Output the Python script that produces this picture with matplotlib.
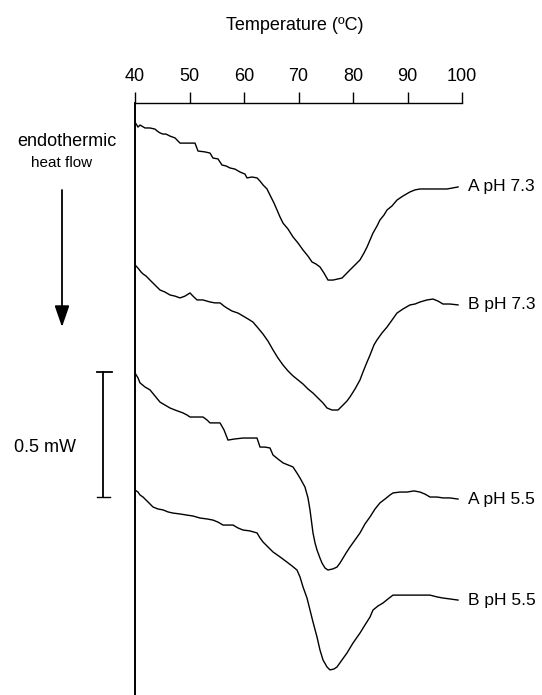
import matplotlib
matplotlib.use("Agg")
import matplotlib.pyplot as plt

plt.rcParams['font.family'] = ['Liberation Sans', 'DejaVu Sans']

# ---- data: temperature (deg C) and heat flow (mW, offset for display) ----
T_A73 = [40.00, 40.55, 40.92, 41.83, 42.75, 43.67, 44.04, 44.59, 45.14, 45.69, 46.42, 47.34, 48.26, 50.09, 51.01,
         51.56, 52.84, 53.76, 54.31, 55.23, 55.96, 56.70, 57.43, 58.35, 59.27, 60.18, 60.55, 61.47, 62.39, 62.94,
         63.49, 64.22, 64.77, 65.50, 66.06, 66.61, 67.16, 68.07, 68.99, 69.91, 70.83, 71.74, 72.48, 73.21, 73.94,
         74.68, 75.41, 76.33, 77.25, 77.98, 78.72, 79.45, 80.37, 81.28, 82.02, 82.57, 83.12, 83.67, 84.40, 84.95,
         85.69, 86.24, 87.16, 88.07, 89.17, 90.46, 91.38, 92.29, 95.05, 97.25, 98.17, 99.27]
H_A73 = [2.535, 2.513, 2.522, 2.509, 2.509, 2.504, 2.496, 2.487, 2.482, 2.482, 2.473, 2.465, 2.442, 2.442, 2.442,
         2.407, 2.403, 2.398, 2.376, 2.372, 2.345, 2.341, 2.332, 2.327, 2.314, 2.305, 2.288, 2.292, 2.288, 2.274,
         2.257, 2.239, 2.212, 2.177, 2.146, 2.115, 2.088, 2.062, 2.027, 2.000, 1.969, 1.942, 1.916, 1.907, 1.894,
         1.867, 1.836, 1.836, 1.841, 1.845, 1.863, 1.881, 1.903, 1.925, 1.956, 1.982, 2.013, 2.044, 2.075, 2.102,
         2.124, 2.146, 2.164, 2.190, 2.208, 2.226, 2.235, 2.239, 2.239, 2.239, 2.243, 2.248]

T_B73 = [40.00, 40.55, 41.10, 41.47, 42.02, 42.75, 43.67, 44.59, 45.50, 46.42, 47.34, 48.26, 49.17, 50.09, 50.64,
         51.38, 52.48, 53.76, 54.68, 55.60, 56.33, 56.88, 57.80, 58.90, 59.82, 60.73, 61.65, 62.57, 63.49, 64.40,
         65.32, 66.24, 67.16, 68.07, 68.99, 69.91, 70.83, 71.74, 72.66, 73.58, 74.50, 75.23, 76.15, 77.25, 78.17,
         78.90, 79.45, 80.37, 81.28, 81.83, 82.57, 83.12, 83.85, 84.40, 85.32, 86.24, 87.16, 88.07, 89.17, 90.46,
         91.38, 92.29, 93.58, 94.68, 95.60, 96.51, 97.80, 99.27]
H_B73 = [1.903, 1.889, 1.872, 1.863, 1.854, 1.836, 1.814, 1.792, 1.783, 1.770, 1.765, 1.757, 1.765, 1.779, 1.765,
         1.748, 1.748, 1.739, 1.735, 1.735, 1.721, 1.712, 1.699, 1.690, 1.677, 1.664, 1.650, 1.624, 1.597, 1.566,
         1.527, 1.491, 1.460, 1.434, 1.412, 1.394, 1.376, 1.354, 1.336, 1.314, 1.292, 1.270, 1.261, 1.261, 1.283,
         1.301, 1.319, 1.354, 1.394, 1.429, 1.473, 1.504, 1.549, 1.571, 1.602, 1.628, 1.659, 1.690, 1.708, 1.726,
         1.730, 1.739, 1.748, 1.752, 1.743, 1.730, 1.730, 1.726]

T_A55 = [40.00, 40.55, 40.92, 41.83, 42.75, 43.67, 44.59, 45.50, 46.42, 47.34, 48.81, 49.54, 50.09, 51.38, 52.48,
         53.21, 53.76, 54.68, 55.60, 56.33, 57.06, 58.35, 59.82, 61.10, 62.39, 62.94, 63.85, 64.77, 65.32, 66.24,
         67.16, 68.07, 68.99, 69.72, 70.28, 71.19, 71.74, 72.11, 72.66, 73.03, 73.39, 73.94, 74.31, 74.86, 75.41,
         76.33, 77.06, 77.61, 78.17, 78.72, 79.45, 80.37, 81.28, 82.20, 83.12, 84.04, 84.95, 85.87, 86.79, 87.34,
         88.62, 89.91, 91.19, 92.29, 93.21, 94.13, 95.41, 96.51, 97.80, 99.27]
H_A55 = [1.425, 1.403, 1.381, 1.363, 1.350, 1.323, 1.296, 1.283, 1.270, 1.261, 1.248, 1.239, 1.230, 1.230, 1.230,
         1.217, 1.204, 1.204, 1.204, 1.173, 1.128, 1.133, 1.137, 1.137, 1.137, 1.097, 1.097, 1.093, 1.062, 1.044,
         1.027, 1.018, 1.009, 0.982, 0.960, 0.920, 0.872, 0.819, 0.717, 0.673, 0.642, 0.606, 0.584, 0.562, 0.553,
         0.558, 0.566, 0.584, 0.606, 0.628, 0.655, 0.686, 0.717, 0.757, 0.788, 0.823, 0.850, 0.867, 0.885, 0.894,
         0.898, 0.898, 0.903, 0.898, 0.889, 0.876, 0.876, 0.872, 0.872, 0.867]

T_B55 = [40.00, 40.55, 40.92, 41.47, 42.39, 43.30, 44.22, 45.14, 46.06, 46.97, 48.26, 49.54, 50.64, 51.93, 53.21,
         54.31, 55.23, 56.15, 57.06, 57.98, 58.90, 59.82, 61.10, 62.39, 62.94, 63.49, 64.40, 65.32, 66.61, 67.89,
         68.81, 69.72, 70.28, 70.83, 71.56, 72.11, 72.66, 73.39, 73.94, 74.50, 75.23, 75.78, 76.51, 77.06, 77.98,
         78.90, 80.00, 81.28, 82.20, 83.12, 83.67, 84.59, 85.50, 86.42, 87.34, 88.62, 90.46, 92.29, 94.13, 95.41,
         96.51, 97.80, 99.27]
H_B55 = [0.907, 0.898, 0.885, 0.876, 0.854, 0.832, 0.823, 0.819, 0.810, 0.805, 0.801, 0.796, 0.792, 0.783, 0.779,
         0.774, 0.765, 0.752, 0.752, 0.752, 0.739, 0.730, 0.726, 0.717, 0.695, 0.677, 0.655, 0.633, 0.611, 0.588,
         0.571, 0.553, 0.522, 0.478, 0.429, 0.376, 0.323, 0.257, 0.199, 0.155, 0.124, 0.111, 0.115, 0.124, 0.155,
         0.186, 0.230, 0.274, 0.310, 0.345, 0.376, 0.394, 0.407, 0.425, 0.442, 0.442, 0.442, 0.442, 0.442, 0.434,
         0.429, 0.425, 0.420]

series = [(T_A73, H_A73, "A pH 7.3"), (T_B73, H_B73, "B pH 7.3"),
          (T_A55, H_A55, "A pH 5.5"), (T_B55, H_B55, "B pH 5.5")]
x_ticks = [40, 50, 60, 70, 80, 90, 100]

W, H = 542, 695
fig = plt.figure(figsize=(W / 100, H / 100), dpi=100)

# overlay for annotations in pixel coordinates
ov = fig.add_axes([0, 0, 1, 1])
ov.set_xlim(0, W)
ov.set_ylim(H, 0)
ov.axis('off')

ax = fig.add_axes([135 / W, 0, (462 - 135) / W, (H - 103) / H])
ax.patch.set_alpha(0)
for T, Hf, lab in series:
    ax.plot(T, Hf, color='black', lw=1.0)
    ax.annotate(lab, xy=(T[-1], Hf[-1]), xytext=(7, 0), textcoords='offset points',
                va='center', ha='left', fontsize=12.5, annotation_clip=False)

ax.set_xlim(40, 100)
ax.set_ylim(0, (H - 103) / 226)
ax.xaxis.tick_top()
ax.set_xticks(x_ticks)
ax.tick_params(axis='x', direction='out', length=8, width=1.0, pad=5, labelsize=13)
ax.set_yticks([])
ax.spines['right'].set_visible(False)
ax.spines['bottom'].set_visible(False)
ax.spines['left'].set_linewidth(1.4)
ax.spines['top'].set_linewidth(1.0)

fig.text(295 / W, 1 - 25 / H, 'Temperature (ºC)', ha='center', va='center', fontsize=13)

# endothermic arrow
ov.text(67, 142, 'endothermic', ha='center', va='center', fontsize=13)
ov.text(62, 163, 'heat flow', ha='center', va='center', fontsize=11)
ov.annotate('', xy=(62, 327), xytext=(62, 190),
            arrowprops=dict(arrowstyle='-|>,head_length=1.3,head_width=0.45', mutation_scale=10,
                            lw=1.3, color='black', shrinkA=0, shrinkB=0))

# scale bar
ov.plot([103, 103], [372, 497], color='black', lw=1.3)
ov.plot([97, 112], [372, 372], color='black', lw=1.3)
ov.plot([97, 110], [497, 497], color='black', lw=1.0)
ov.text(45, 447, '0.5 mW', ha='center', va='center', fontsize=13)

fig.savefig('out.png', dpi=100)
